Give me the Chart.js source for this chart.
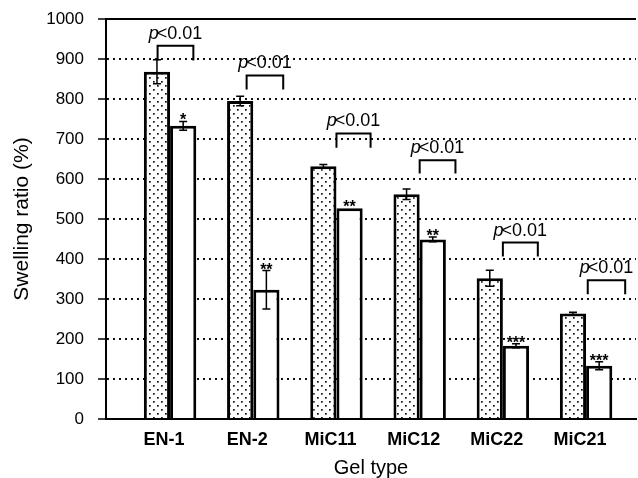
<!DOCTYPE html>
<html>
<head>
<meta charset="utf-8">
<script src="https://cdn.jsdelivr.net/npm/chart.js@4.4.0/dist/chart.umd.min.js"></script>
<style>
  html, body { margin: 0; padding: 0; background: #fff; }
  #wrap { width: 638px; height: 478px; }
</style>
</head>
<body>
<div id="wrap"><canvas id="swellChart" width="638" height="478"></canvas></div>
<script>
// gel types on the x axis
var categories = ['EN-1', 'EN-2', 'MiC11', 'MiC12', 'MiC22', 'MiC21'];

// dotted bars (first series) and white bars (second series), swelling ratio %
var dottedValues = [868, 795, 632, 562, 352, 264];
var dottedErrors = [30, 12, 4, 13, 20, 3];
var whiteValues = [733, 323, 527, 449, 183, 133];
var whiteErrors = [11, 48, 0, 6, 5, 10];

// significance marks above the white bars
var stars = ['*', '**', '**', '**', '***', '***'];

// p<0.01 brackets: top and leg end (in % units), ends as offsets from the category
var bracketTop = [933, 859, 714, 647, 441, 347];
var bracketLeg = [896, 824, 678, 614, 406, 312];
var bracketFrom = [-0.15, -0.08, 0.0, 0.0, 0.0, 0.02];
var bracketTo = [0.28, 0.36, 0.41, 0.43, 0.42, 0.47];

var yMin = 0, yMax = 1000, yStep = 100;

// dot pattern for the first series
function dotPattern() {
    var c = document.createElement('canvas');
    c.width = 8; c.height = 8;
    var g = c.getContext('2d');
    g.fillStyle = '#fff';
    g.fillRect(0, 0, 8, 8);
    g.fillStyle = '#111';
    g.fillRect(1, 1, 1.7, 1.7);
    g.fillRect(5, 5, 1.7, 1.7);
    return g.createPattern(c, 'repeat');
}

function toPoints(vals) {
    return vals.map(function (v, i) { return { x: i, y: v }; });
}

var extras = {
    id: 'extras',
    afterDatasetsDraw: function (chart) {
        var ctx = chart.ctx;
        var xs = chart.scales.x, ys = chart.scales.y;
        var area = chart.chartArea;
        ctx.save();

        // top frame line
        ctx.strokeStyle = '#000';
        ctx.lineWidth = 2;
        ctx.beginPath();
        ctx.moveTo(area.left, ys.getPixelForValue(yMax));
        ctx.lineTo(area.right, ys.getPixelForValue(yMax));
        ctx.stroke();

        // error bars
        var errs = [dottedErrors, whiteErrors];
        var vals = [dottedValues, whiteValues];
        ctx.lineWidth = 1.5;
        for (var d = 0; d < 2; d++) {
            var meta = chart.getDatasetMeta(d);
            meta.data.forEach(function (bar, i) {
                var e = errs[d][i];
                if (!e) return;
                var top = ys.getPixelForValue(vals[d][i] + e);
                var bot = ys.getPixelForValue(vals[d][i] - e);
                ctx.beginPath();
                ctx.moveTo(bar.x, top); ctx.lineTo(bar.x, bot);
                ctx.moveTo(bar.x - 4, top); ctx.lineTo(bar.x + 4, top);
                ctx.moveTo(bar.x - 4, bot); ctx.lineTo(bar.x + 4, bot);
                ctx.stroke();
            });
        }

        // stars over white bars
        ctx.fillStyle = '#000';
        ctx.font = 'bold 16px "Liberation Sans", Arial, sans-serif';
        ctx.textAlign = 'center';
        ctx.textBaseline = 'alphabetic';
        chart.getDatasetMeta(1).data.forEach(function (bar, i) {
            var y = ys.getPixelForValue(whiteValues[i] + whiteErrors[i]);
            ctx.fillText(stars[i], bar.x, y + 4);
        });

        // brackets with p<0.01
        ctx.lineWidth = 2;
        categories.forEach(function (c, i) {
            var x1 = xs.getPixelForValue(i + bracketFrom[i]);
            var x2 = xs.getPixelForValue(i + bracketTo[i]);
            var yt = ys.getPixelForValue(bracketTop[i]);
            var yl = ys.getPixelForValue(bracketLeg[i]);
            ctx.beginPath();
            ctx.moveTo(x1, yl); ctx.lineTo(x1, yt); ctx.lineTo(x2, yt); ctx.lineTo(x2, yl);
            ctx.stroke();

            var pFont = 'italic 18px "Liberation Sans", Arial, sans-serif';
            var rFont = '18px "Liberation Sans", Arial, sans-serif';
            ctx.font = pFont;
            var wp = ctx.measureText('p').width;
            ctx.font = rFont;
            var wr = ctx.measureText('<0.01').width;
            var sx = (x1 + x2) / 2 - (wp + wr - 2) / 2;
            ctx.textAlign = 'left';
            ctx.font = pFont;
            ctx.fillText('p', sx, yt - 7);
            ctx.font = rFont;
            ctx.fillText('<0.01', sx + wp - 2, yt - 7);
        });
        ctx.restore();
    }
};

var ctx = document.getElementById('swellChart').getContext('2d');

var swellChart = new Chart(ctx, {
    type: 'bar',
    data: {
        datasets: [
            {
                label: 'dotted',
                data: toPoints(dottedValues),
                backgroundColor: dotPattern(),
                borderColor: '#000',
                borderWidth: 3,
                borderSkipped: 'bottom'
            },
            {
                label: 'white',
                data: toPoints(whiteValues),
                backgroundColor: '#fff',
                borderColor: '#000',
                borderWidth: 3,
                borderSkipped: 'bottom'
            }
        ]
    },
    options: {
        responsive: false,
        animation: false,
        categoryPercentage: 0.63,
        barPercentage: 1.0,
        layout: {
            padding: { top: 19, right: 2, left: 0, bottom: 0 }
        },
        plugins: {
            legend: { display: false },
            tooltip: { enabled: false }
        },
        scales: {
            x: {
                type: 'linear',
                min: -0.77,
                max: 5.6,
                offset: false,
                grid: { display: false, drawTicks: false, offset: false },
                border: { display: true, color: '#000', width: 2 },
                ticks: {
                    stepSize: 1,
                    includeBounds: false,
                    autoSkip: false,
                    maxRotation: 0,
                    padding: 10,
                    labelOffset: -6,
                    color: '#000',
                    font: { family: '"Liberation Sans", Arial, sans-serif', size: 18, weight: 'bold' },
                    callback: function (v) {
                        return Number.isInteger(v) && categories[v] ? categories[v] : '';
                    }
                },
                title: {
                    display: true,
                    text: 'Gel type',
                    color: '#000',
                    font: { family: '"Liberation Sans", Arial, sans-serif', size: 20, lineHeight: 1 },
                    padding: { top: 0, bottom: 0 }
                },
                afterFit: function (scale) {
                    scale.height = 59;
                    scale.paddingLeft = 0;
                    scale.paddingRight = 0;
                }
            },
            y: {
                min: yMin,
                max: yMax,
                ticks: {
                    stepSize: yStep,
                    padding: 14,
                    color: '#000',
                    font: { family: '"Liberation Sans", Arial, sans-serif', size: 17 },
                    callback: function (v) { return String(v); }
                },
                grid: {
                    color: function (c) {
                        return (c.tick && (c.tick.value === yMax || c.tick.value === yMin)) ? 'rgba(0,0,0,0)' : '#111';
                    },
                    lineWidth: 2,
                    tickLength: 8,
                    tickColor: '#000',
                    tickWidth: 1.5
                },
                border: { display: true, color: '#000', width: 2, dash: [2, 4] },
                title: {
                    display: true,
                    text: 'Swelling ratio (%)',
                    color: '#000',
                    font: { family: '"Liberation Sans", Arial, sans-serif', size: 21, lineHeight: 1 },
                    padding: { top: 12, bottom: 0 }
                },
                afterFit: function (scale) {
                    scale.width = 106;
                    scale.paddingTop = 0;
                    scale.paddingBottom = 0;
                }
            }
        }
    },
    plugins: [extras]
});
</script>
</body>
</html>
